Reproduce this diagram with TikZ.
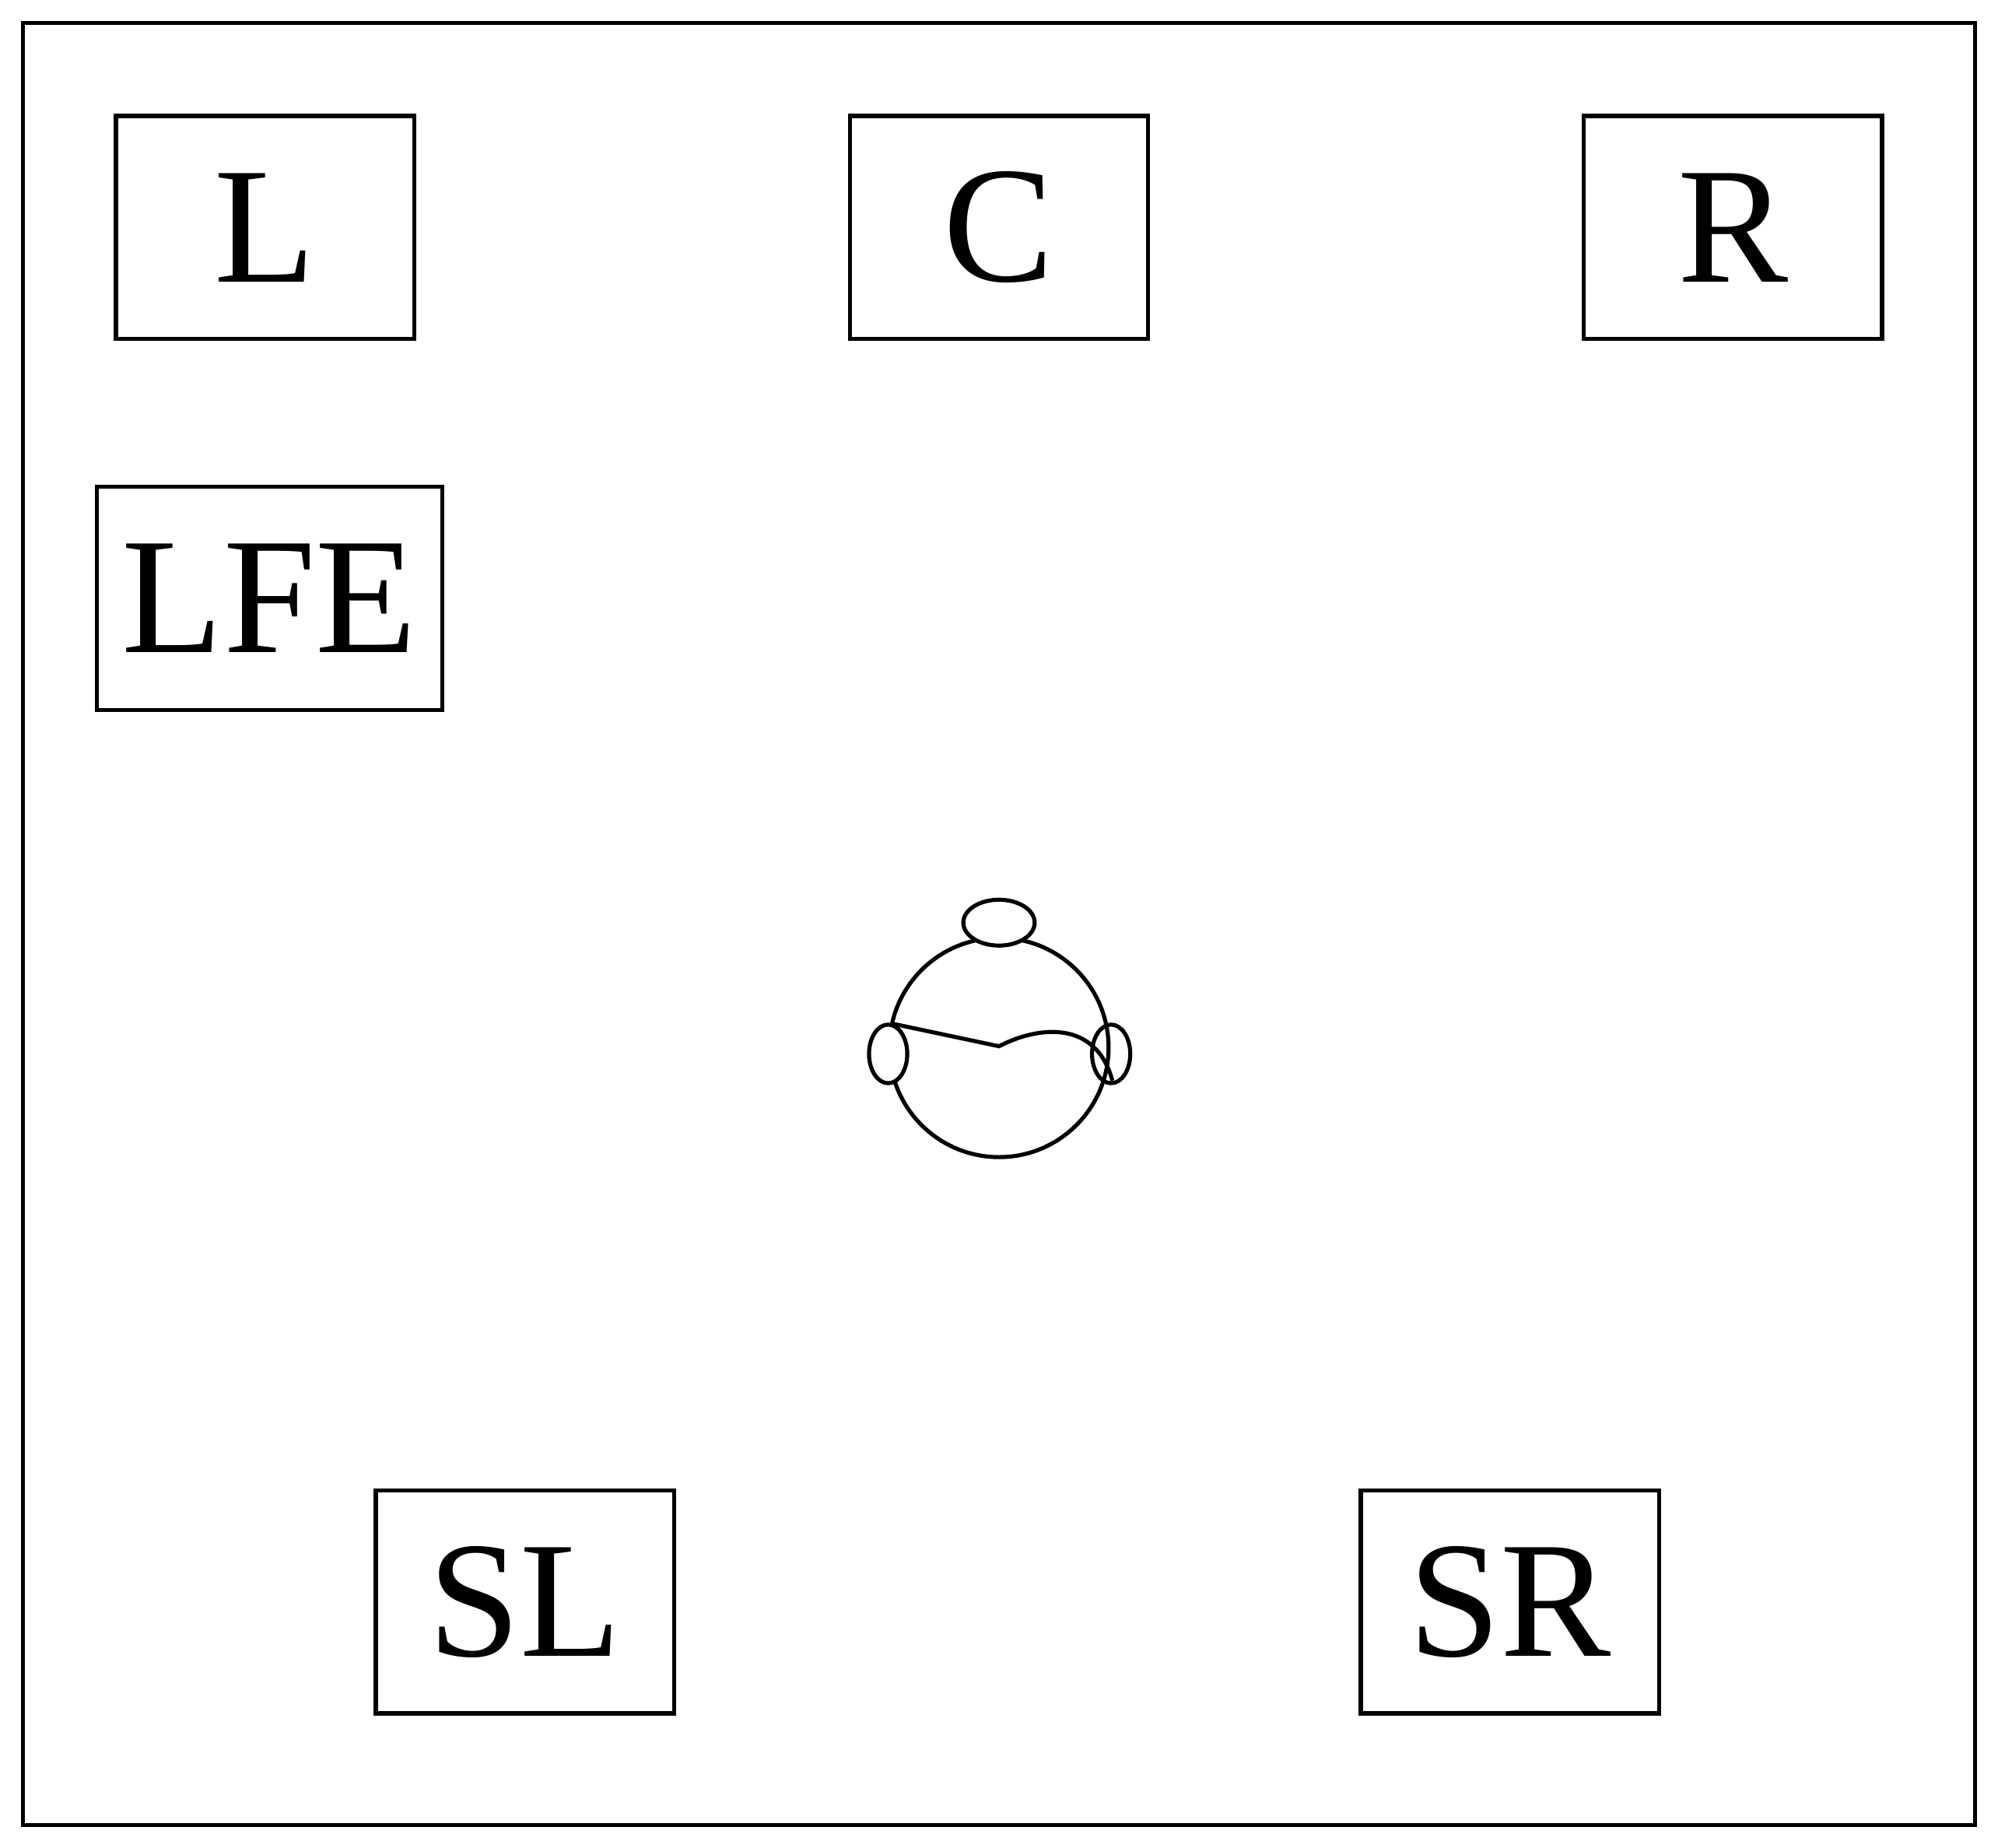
\documentclass[tikz,border=0pt]{standalone}
\usepackage{fontspec}
\setmainfont{Liberation Serif}
\begin{document}
\begin{tikzpicture}[x=0.01cm,y=-0.01cm,line width=0.9pt,
  spk/.style={draw,minimum width=2.34cm,minimum height=1.75cm,font=\fontsize{37}{40}\selectfont,inner sep=0pt}]
\useasboundingbox (0,0) rectangle (1568,1450);
\draw (18,18) rectangle (1550,1432);
\node[spk] (L) at (208,178.5) {L};
\node[spk] (C) at (784,178.5) {C};
\node[spk] (R) at (1360,178.5) {R};
\node[spk,minimum width=2.71cm] (LFE) at (211.5,469.5) {LFE};
\node[spk] (SL) at (412,1257) {SL};
\node[spk] (SR) at (1185,1257) {SR};
% head
\draw (784,822) circle[radius=86];
\draw[fill=white] (784,724) ellipse[x radius=28,y radius=18];
\draw[fill=white] (697,827) ellipse[x radius=15,y radius=23];
\draw (872,827) ellipse[x radius=15,y radius=23];
\draw (699,803) -- (784,821) .. controls (815,805) and (860,800) .. (873,848);
\end{tikzpicture}
\end{document}
